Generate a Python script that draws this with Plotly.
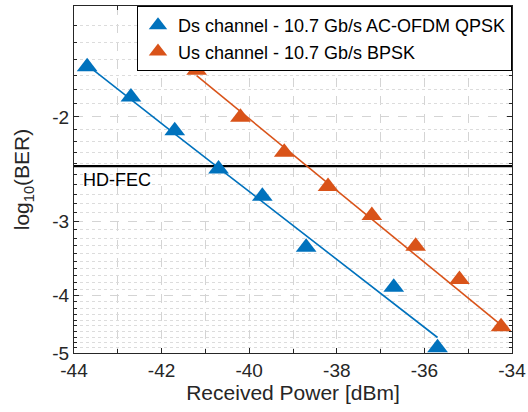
import math
import plotly.graph_objects as go

# ---- data (y values are -log10(BER), shown with negative labels) ----
ds_x = [-43.7, -42.7, -41.7, -40.7, -39.7, -38.7, -36.7, -35.7]
ds_y = [1.646, 1.851, 2.110, 2.447, 2.722, 3.316, 3.873, 4.898]
ds_fit_x = [-43.7, -42.7, -41.7, -40.7, -39.7, -38.7, -36.7, -35.7]
ds_fit_y = [1.636, 1.871, 2.135, 2.436, 2.781, 3.174, 4.134, 4.708]

us_x = [-41.2, -40.2, -39.2, -38.2, -37.2, -36.2, -35.2, -34.25]
us_y = [1.668, 2.003, 2.293, 2.620, 2.932, 3.303, 3.758, 4.515]
us_fit_x = [-41.2, -40.2, -39.2, -38.2, -37.2, -36.2, -35.2, -34.1]
us_fit_y = [1.704, 1.958, 2.251, 2.587, 2.975, 3.420, 3.929, 4.580]

hd_fec = 2.42
x_ticks = [-44, -42, -40, -38, -36, -34]
y_ticks = [2, 3, 4, 5]
y_ticktext = ["-2", "-3", "-4", "-5"]
y_minor = [round(1.3 + 0.1 * i, 1) for i in range(37) if round(1.3 + 0.1 * i, 1) not in (2.0, 3.0, 4.0, 5.0)]

BLUE = "#0072BD"
ORANGE = "#D95319"
FONT = "Liberation Sans, Arial, sans-serif"
AXC = "#262626"

fig = go.Figure()

fig.add_trace(go.Scatter(x=[-44, -34], y=[hd_fec, hd_fec], mode="lines",
                         line=dict(color="black", width=2.2), showlegend=False, hoverinfo="skip"))
fig.add_trace(go.Scatter(x=ds_fit_x, y=ds_fit_y, mode="lines",
                         line=dict(color=BLUE, width=1.6), showlegend=False))
fig.add_trace(go.Scatter(x=us_fit_x, y=us_fit_y, mode="lines",
                         line=dict(color=ORANGE, width=1.6), showlegend=False))
fig.add_trace(go.Scatter(x=ds_x, y=ds_y, mode="markers",
                         marker=dict(symbol="triangle-up", size=18, color=BLUE),
                         name="Ds channel - 10.7 Gb/s AC-OFDM QPSK"))
fig.add_trace(go.Scatter(x=us_x, y=us_y, mode="markers",
                         marker=dict(symbol="triangle-up", size=18, color=ORANGE),
                         name="Us channel - 10.7 Gb/s BPSK"))

fig.add_annotation(x=-44, y=math.log10(2.551), xref="x", yref="y", text="HD-FEC",
                   showarrow=False, xanchor="left", yanchor="middle", xshift=7,
                   font=dict(family=FONT, size=18, color="black"))

fig.update_layout(
    width=528, height=412,
    margin=dict(l=74, r=16, t=6, b=59, autoexpand=False),
    paper_bgcolor="white", plot_bgcolor="white",
    font=dict(family=FONT, color=AXC),
    legend=dict(x=1, xanchor="right", y=1, yanchor="top",
                bgcolor="white", bordercolor="black", borderwidth=1,
                font=dict(family=FONT, size=18, color="black"),
                tracegroupgap=0),
    showlegend=True,
)

fig.update_xaxes(
    range=[-44, -34], tickvals=x_ticks, ticktext=[str(v) for v in x_ticks],
    ticks="inside", ticklen=5, tickcolor=AXC, automargin=False,
    showline=True, linecolor=AXC, linewidth=1, mirror="ticks",
    showgrid=True, gridcolor="#d4d4d4", griddash="dash", gridwidth=1,
    zeroline=False,
    tickfont=dict(family=FONT, size=19, color=AXC),
    title=dict(text="Received Power [dBm]", font=dict(family=FONT, size=21, color=AXC), standoff=4),
    minor=dict(dtick=1, tick0=-44, ticks="inside", ticklen=4, tickcolor=AXC,
               showgrid=True, gridcolor="#d4d4d4", griddash="dash", gridwidth=1),
)

fig.update_yaxes(
    type="log", range=[math.log10(5), math.log10(1.3)],
    tickvals=y_ticks, ticktext=y_ticktext,
    ticks="inside", ticklen=5, tickcolor=AXC, automargin=False,
    showline=True, linecolor=AXC, linewidth=1, mirror="ticks",
    showgrid=True, gridcolor="#d4d4d4", griddash="dash", gridwidth=1,
    zeroline=False,
    tickfont=dict(family=FONT, size=19, color=AXC),
    title=dict(text="log<sub>10</sub>(BER)", font=dict(family=FONT, size=21, color=AXC), standoff=16),
    minor=dict(tickvals=y_minor, ticks="inside", ticklen=3, tickcolor=AXC,
               showgrid=True, gridcolor="#dcdcdc", griddash="dot", gridwidth=1),
)

fig.write_html("out.html", config={"displayModeBar": False},
               post_script="document.body.style.margin='0';document.body.style.overflow='hidden';")
